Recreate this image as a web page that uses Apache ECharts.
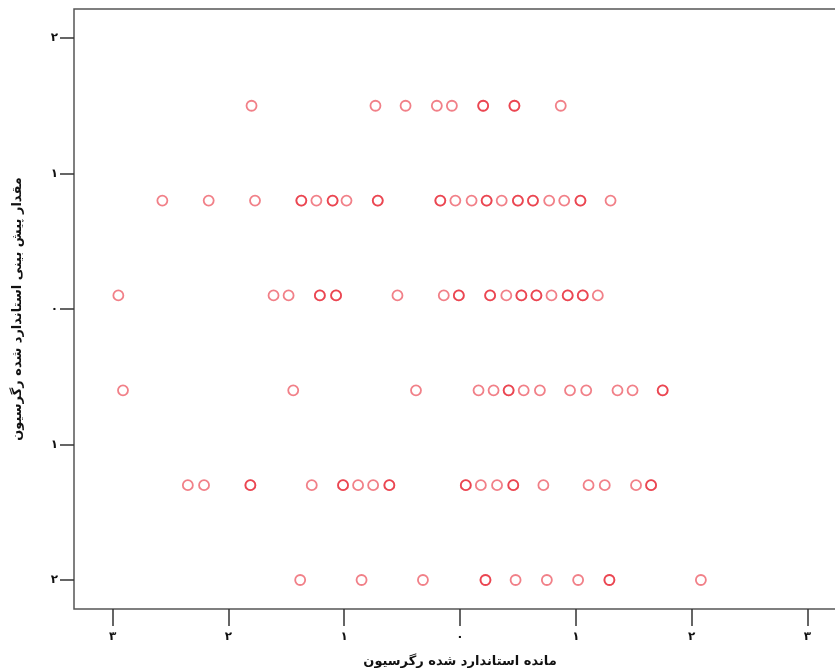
<!DOCTYPE html>
<html>
<head>
<meta charset="utf-8">
<script src="https://cdn.jsdelivr.net/npm/echarts@6/dist/echarts.min.js"></script>
<style>html,body{margin:0;padding:0;background:#fff}#c{width:835px;height:672px}</style>
</head>
<body>
<div id="c"></div>
<script>
// Y levels of the six rows (regression standardized predicted value)
const rowLevels = [1.5, 0.8, 0.1, -0.6, -1.3, -2.0];
// X values (regression standardized residual) for each row; repeated values = overlapping points
const xRow1 = [-1.80, -0.73, -0.47, -0.20, -0.07, 0.20, 0.20, 0.47, 0.47, 0.87];
const xRow2 = [-2.57, -2.17, -1.77, -1.37, -1.37, -1.24, -1.10, -1.10, -0.98, -0.71, -0.71, -0.17, -0.17, -0.04, 0.10, 0.23, 0.23, 0.36, 0.50, 0.50, 0.63, 0.63, 0.77, 0.90, 1.04, 1.04, 1.30];
const xRow3 = [-2.95, -1.61, -1.48, -1.21, -1.21, -1.07, -1.07, -0.54, -0.14, -0.01, -0.01, 0.26, 0.26, 0.40, 0.53, 0.53, 0.66, 0.66, 0.79, 0.93, 0.93, 1.06, 1.06, 1.19];
const xRow4 = [-2.91, -1.44, -0.38, 0.16, 0.29, 0.42, 0.42, 0.55, 0.69, 0.95, 1.09, 1.36, 1.49, 1.75, 1.75];
const xRow5 = [-2.35, -2.21, -1.81, -1.81, -1.28, -1.01, -1.01, -0.88, -0.75, -0.61, -0.61, 0.05, 0.05, 0.18, 0.32, 0.46, 0.46, 0.72, 1.11, 1.25, 1.52, 1.65, 1.65];
const xRow6 = [-1.38, -0.85, -0.32, 0.22, 0.22, 0.48, 0.75, 1.02, 1.29, 1.29, 2.08];
const xTicks = [-3, -2, -1, 0, 1, 2, 3];
const yTicks = [-2, -1, 0, 1, 2];
const xTitle = 'مانده استاندارد شده رگرسیون';
const yTitle = 'مقدار پیش بینی استاندارد شده رگرسیون';
const persianDigits = ['۰', '۱', '۲', '۳', '۴', '۵', '۶', '۷', '۸', '۹'];

const rows = [xRow1, xRow2, xRow3, xRow4, xRow5, xRow6];
const points = [];
rows.forEach((r, i) => r.forEach(x => points.push([x, rowLevels[i]])));

function fa(v) {
  return String(Math.abs(Math.round(v))).split('').map(d => persianDigits[+d]).join('');
}

const font = 'DejaVu Sans';
const chart = echarts.init(document.getElementById('c'), null, {renderer: 'canvas'});
chart.setOption({
  animation: false,
  backgroundColor: '#fff',
  grid: {left: 74, top: 9, right: -11, bottom: 63, show: true, borderColor: '#555', borderWidth: 1.5, containLabel: false, outerBoundsMode: 'none'},
  xAxis: {
    type: 'value', min: -3.333, max: 3.333,
    axisLine: {show: false, onZero: false},
    splitLine: {show: false},
    axisTick: {show: true, customValues: xTicks, length: 17, inside: false, lineStyle: {color: '#333', width: 1.5}},
    axisLabel: {customValues: xTicks, formatter: fa, margin: 22, color: '#111', fontFamily: font, fontWeight: 'bold', fontSize: 12},
    name: xTitle, nameLocation: 'middle', nameGap: 46,
    nameTextStyle: {color: '#111', fontFamily: font, fontWeight: 'bold', fontSize: 13}
  },
  yAxis: {
    type: 'value', min: -2.214, max: 2.214,
    axisLine: {show: false, onZero: false},
    splitLine: {show: false},
    axisTick: {show: true, customValues: yTicks, length: 14, inside: false, lineStyle: {color: '#333', width: 1.5}},
    axisLabel: {customValues: yTicks, formatter: fa, margin: 16, color: '#111', fontFamily: font, fontWeight: 'bold', fontSize: 12},
    name: yTitle, nameLocation: 'middle', nameGap: 50, nameRotate: 90,
    nameTextStyle: {color: '#111', fontFamily: font, fontWeight: 'bold', fontSize: 13}
  },
  series: [{
    type: 'scatter',
    data: points,
    symbol: 'circle',
    symbolSize: 10,
    itemStyle: {color: 'rgba(0,0,0,0)', borderColor: 'rgba(230,20,35,0.68)', borderWidth: 1.8}
  }]
});
</script>
</body>
</html>
